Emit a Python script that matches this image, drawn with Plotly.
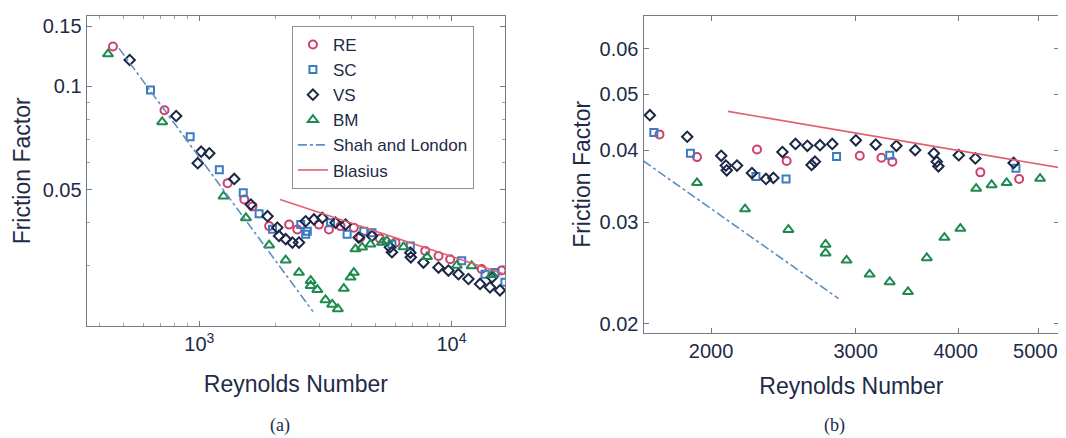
import plotly.graph_objects as go

# ---------------- (a) data ----------------
a_re_x = [454, 727, 1294, 1507, 1624, 1891, 2270, 2447, 2981, 3265, 3631, 4100, 4354, 5200, 6000, 7870, 8886, 9887, 13180, 15800]
a_re_y = [0.1309, 0.0852, 0.0522, 0.0468, 0.0446, 0.0391, 0.0395, 0.0382, 0.0395, 0.0382, 0.0391, 0.0387, 0.0362, 0.0360, 0.0350, 0.0331, 0.0320, 0.0313, 0.0293, 0.0290]
a_sc_x = [640, 919, 1200, 1493, 1726, 1950, 2525, 2640, 2680, 3315, 3856, 4488, 4840, 5808, 6868, 10983, 13590, 14890, 16300]
a_sc_y = [0.0977, 0.0713, 0.0571, 0.0489, 0.0425, 0.0383, 0.0395, 0.0370, 0.0378, 0.0400, 0.0370, 0.0378, 0.0374, 0.0346, 0.0342, 0.0310, 0.0283, 0.0286, 0.0268]
a_vs_x = [529, 809, 985, 1016, 1095, 1375, 1600, 1864, 2039, 2070, 2201, 2339, 2484, 2640, 2848, 3073, 3468, 3800, 4286, 4840,
          5700, 5808, 6868, 6900, 7743, 8886, 9727, 10659, 11677, 12987, 14222, 14500, 15576]
a_vs_y = [0.1195, 0.0820, 0.0597, 0.0645, 0.0638, 0.0537, 0.0452, 0.0418, 0.0387, 0.0366, 0.0358, 0.0350, 0.0350, 0.0404, 0.0409, 0.0413, 0.0400, 0.0395, 0.0362, 0.0366,
          0.0339, 0.0328, 0.0327, 0.0317, 0.0306, 0.0296, 0.0290, 0.0283, 0.0274, 0.0265, 0.0259, 0.0277, 0.0254]
a_bm_x = [434, 712, 1247, 1530, 1891, 2201, 2484, 2764, 2764, 2937, 3165, 3365, 3543, 3741, 3978, 4100, 4160, 4421, 4770, 5303, 5546, 6456, 8000, 10500, 12025, 14500]
a_bm_y = [0.1244, 0.0788, 0.0478, 0.0413, 0.0344, 0.0311, 0.0286, 0.0271, 0.0262, 0.0255, 0.0238, 0.0231, 0.0224, 0.0257, 0.0277, 0.0286, 0.0335, 0.0339, 0.0346, 0.0350, 0.0354, 0.0340, 0.0318, 0.0300, 0.0299, 0.0282]
a_shah_x = [480, 2825]
a_shah_y = [0.1292, 0.0220]
a_blas_x = [2090, 16300]
a_blas_y = [0.0468, 0.0283]

# ---------------- (b) data ----------------
b_re_x = [1731, 1923, 2275, 2472, 3034, 3224, 3324, 4254, 4742]
b_re_y = [0.0426, 0.0389, 0.0401, 0.0383, 0.0391, 0.0388, 0.0382, 0.0366, 0.03565]
b_sc_x = [1704, 1888, 2268, 2468, 2843, 3300, 4699]
b_sc_y = [0.0429, 0.0395, 0.0360, 0.03565, 0.0390, 0.0392, 0.0372]
b_vs_x = [1685, 1871, 2058, 2085, 2090, 2151, 2243, 2333, 2382, 2443, 2534, 2620, 2651, 2676, 2714, 2809, 3001, 3173,
          3362, 3544, 3734, 3765, 3782, 4004, 4195, 4669]
b_vs_y = [0.0460, 0.0422, 0.0391, 0.0376, 0.0369, 0.0376, 0.0365, 0.03565, 0.0358, 0.0397, 0.0410, 0.0407, 0.0377, 0.0382, 0.0408, 0.0410, 0.0416, 0.0409,
          0.0407, 0.0400, 0.0395, 0.0382, 0.0375, 0.0392, 0.0387, 0.0380]
b_bm_x = [1923, 2200, 2484, 2757, 2757, 2924, 3119, 3300, 3473, 3661, 3846, 4022, 4204, 4390, 4579, 5028]
b_bm_y = [0.0351, 0.0316, 0.0291, 0.02743, 0.0265, 0.02575, 0.02435, 0.02362, 0.0227, 0.0260, 0.0282, 0.02924, 0.0343, 0.0348, 0.0351, 0.0357]
b_shah_x = [1655, 2859]
b_shah_y = [0.0383, 0.0221]
b_blas_x = [2097, 5303]
b_blas_y = [0.0467, 0.0373]

# ---------------- ticks / labels ----------------
a_xtick_vals = [1000, 10000]
a_xtick_text = ["10<sup>3</sup>", "10<sup>4</sup>"]
a_ytick_vals = [0.05, 0.1, 0.15]
a_ytick_text = ["0.05", "0.1", "0.15"]
b_xtick_vals = [2000, 3000, 4000, 5000]
b_xtick_text = ["2000", "3000", "4000\u00a0", "5000\u00a0"]
b_ytick_vals = [0.02, 0.03, 0.04, 0.05, 0.06]
b_ytick_text = ["0.02", "0.03", "0.04", "0.05", "0.06"]

series_names = ["RE", "SC", "VS", "BM"]
TXT = "#1e2b48"
C_RE, C_SC, C_VS, C_BM = "#cf3f6c", "#3a7cc4", "#1b2744", "#1f8a50"
C_SHAH, C_BLAS = "#5d8fc2", "#e0606e"
FONT = "Liberation Sans, Arial, sans-serif"
SERIF = "Liberation Serif, Times New Roman, serif"

W, H = 1066, 438
OFF = 8  # page body margin of the html page


def dx(px):
    return (px - OFF) / W


def dy(py):
    return 1 - (py - OFF) / H


fig = go.Figure()


def add_set(xa, ya, re, sc, vs, bm, shah, blas, legend):
    specs = [
        (series_names[0], re, C_RE, "circle-open", 8),
        (series_names[1], sc, C_SC, "square-open", 7),
        (series_names[2], vs, C_VS, "diamond-open", 8),
        (series_names[3], bm, C_BM, "triangle-up-open", 9),
    ]
    for name, (xs, ys), col, sym, sz in specs:
        fig.add_trace(go.Scatter(x=xs, y=ys, mode="markers", name=name, xaxis=xa, yaxis=ya,
                                 showlegend=legend,
                                 marker=dict(symbol=sym, size=sz, color=col, line=dict(width=2, color=col))))
    fig.add_trace(go.Scatter(x=shah[0], y=shah[1], mode="lines", name="Shah and London", xaxis=xa, yaxis=ya,
                             showlegend=legend, line=dict(color=C_SHAH, width=1.6, dash="dashdot")))
    fig.add_trace(go.Scatter(x=blas[0], y=blas[1], mode="lines", name="Blasius", xaxis=xa, yaxis=ya,
                             showlegend=legend, line=dict(color=C_BLAS, width=1.6)))


add_set("x", "y", (a_re_x, a_re_y), (a_sc_x, a_sc_y), (a_vs_x, a_vs_y), (a_bm_x, a_bm_y),
        (a_shah_x, a_shah_y), (a_blas_x, a_blas_y), True)
add_set("x2", "y2", (b_re_x, b_re_y), (b_sc_x, b_sc_y), (b_vs_x, b_vs_y), (b_bm_x, b_bm_y),
        (b_shah_x, b_shah_y), (b_blas_x, b_blas_y), False)

axis_common = dict(type="log", showline=True, linecolor="#717a88", linewidth=1.2, mirror="ticks",
                   ticks="inside", ticklen=5, tickcolor="#717a88", showgrid=False, zeroline=False,
                   tickfont=dict(family=FONT, size=20, color=TXT),
                   minor=dict(ticks="inside", ticklen=3, tickcolor="#9aa2ae", dtick="D1", showgrid=False))

title_font = dict(family=FONT, size=23, color=TXT)

fig.update_layout(
    width=W, height=H, autosize=False,
    margin=dict(l=0, r=0, t=0, b=0),
    paper_bgcolor="white", plot_bgcolor="white",
    font=dict(family=FONT, color=TXT),
    xaxis=dict(axis_common, domain=[dx(87), dx(507)], range=[2.553, 4.213],
               tickvals=a_xtick_vals, ticktext=a_xtick_text,
               title=dict(text="Reynolds Number", font=title_font, standoff=21), anchor="y"),
    yaxis=dict(axis_common, domain=[dy(327), dy(15)], range=[-1.699, -0.794],
               tickvals=a_ytick_vals, ticktext=a_ytick_text,
               title=dict(text="Friction Factor", font=title_font, standoff=5), anchor="x"),
    xaxis2=dict(axis_common, domain=[dx(646), dx(1063)], range=[3.219, 3.7245],
                tickvals=b_xtick_vals, ticktext=b_xtick_text,
                title=dict(text="Reynolds Number", font=title_font, standoff=17), anchor="y2"),
    yaxis2=dict(axis_common, domain=[dy(334), dy(15)], range=[-1.715, -1.165],
                tickvals=b_ytick_vals, ticktext=b_ytick_text,
                title=dict(text="Friction Factor", font=title_font, standoff=2), anchor="x2"),
    legend=dict(x=dx(293), y=dy(25), xanchor="left", yanchor="top",
                bgcolor="white", bordercolor="#8a8f98", borderwidth=1,
                font=dict(family=FONT, size=17, color=TXT), tracegroupgap=0,
                itemwidth=30),
    annotations=[
        dict(text="(a)", x=dx(281), y=dy(427), xref="paper", yref="paper", showarrow=False,
             xanchor="center", yanchor="middle",
             font=dict(family=SERIF, size=18, color=TXT)),
        dict(text="(b)", x=dx(838), y=dy(427), xref="paper", yref="paper", showarrow=False,
             xanchor="center", yanchor="middle",
             font=dict(family=SERIF, size=18, color=TXT)),
    ],
)

fig.write_html("out.html")
